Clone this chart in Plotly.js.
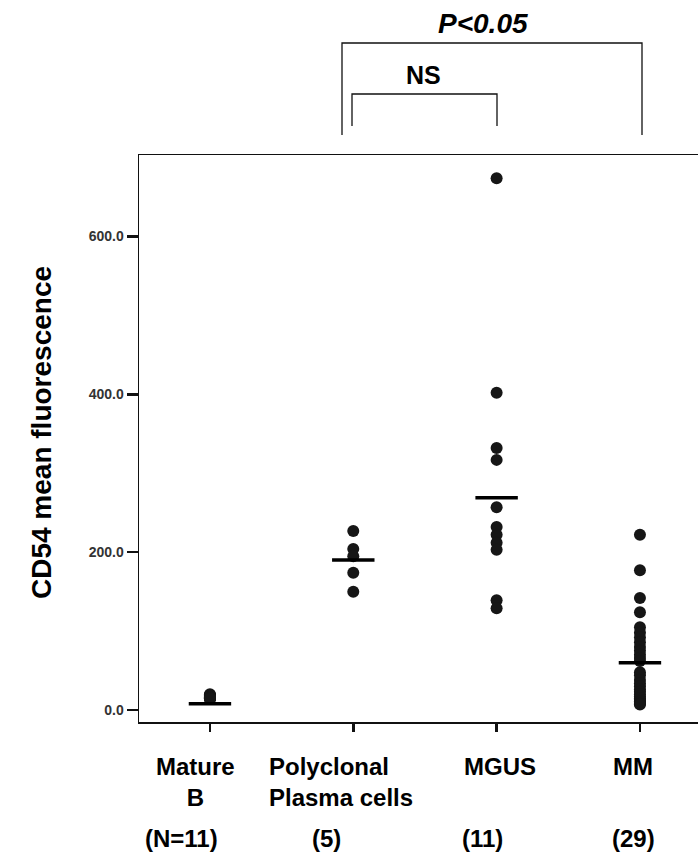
<!DOCTYPE html>
<html>
<head>
<meta charset="utf-8">
<script src="https://cdn.plot.ly/plotly-3.0.1.min.js"></script>
<style>html,body{margin:0;padding:0;background:#fff;}#chart{width:698px;height:857px;}</style>
</head>
<body>
<div id="chart"></div>
<script>
// ---- data ----
const categories = ['Mature<br>B', 'Polyclonal<br>Plasma cells', 'MGUS', 'MM'];
const nLabels = ['(N=11)', '(5)', '(11)', '(29)'];
const matureB = [20, 19, 18, 18, 17, 16, 16, 15, 15, 14, 14];
const polyclonal = [227, 204, 195, 174, 150];
const mgus = [674, 402, 332, 317, 257, 232, 222, 212, 203, 139, 129];
const mm = [222, 177, 142, 124, 105, 98, 92, 86, 80, 75, 70, 66, 62, 48, 44, 38, 34, 30, 26, 23, 20, 17, 15, 13, 11, 10, 9, 8, 7];
const means = [8, 190, 269, 60];
const yTicks = [0, 200, 400, 600];
const yTitle = 'CD54 mean fluorescence';
const pText = 'P<0.05';
const nsText = 'NS';

const groups = [matureB, polyclonal, mgus, mm];

// plot geometry helpers (pixel -> paper)
const L = 139, T = 155, W = 559, H = 567;
const px = p => (p - L) / W;
const py = p => (T + H - p) / H;

const traces = [];
groups.forEach((vals, i) => {
  traces.push({
    type: 'scatter', mode: 'markers',
    x: vals.map(() => i), y: vals,
    marker: {size: 12, color: '#161616', line: {width: 0}},
    hoverinfo: 'y', showlegend: false
  });
});
means.forEach((m, i) => {
  traces.push({
    type: 'scatter', mode: 'lines',
    x: [i - 0.148, i + 0.148], y: [m, m],
    line: {color: '#000', width: 3.5},
    hoverinfo: 'skip', showlegend: false
  });
});

const FONT = 'Liberation Sans, Arial, sans-serif';
const labelFont = {family: FONT, size: 24, color: '#000'};
const annotations = [];
const catShift = [-14, 0, 3, -7];
const catAnchor = ['center', 'left', 'center', 'center'];
const catAnchorShift = [0, -86, 0, 0];
categories.forEach((c, i) => {
  annotations.push({
    xref: 'x', yref: 'paper', x: i, y: py(751),
    xanchor: catAnchor[i], yanchor: 'top', align: catAnchor[i] === 'left' ? 'left' : 'center',
    xshift: catShift[i] + catAnchorShift[i],
    text: '<b>' + c + '</b>', showarrow: false, font: labelFont
  });
});
const nShift = [-28, -27, -14, -6];
nLabels.forEach((t, i) => {
  annotations.push({
    xref: 'x', yref: 'paper', x: i, y: py(838),
    xanchor: 'center', yanchor: 'middle', xshift: nShift[i],
    text: '<b>' + t + '</b>', showarrow: false,
    font: {family: FONT, size: 24, color: '#000'}
  });
});
annotations.push({
  xref: 'paper', yref: 'paper', x: px(41), y: py(433),
  xanchor: 'center', yanchor: 'middle', textangle: -90,
  text: '<b>' + yTitle + '</b>', showarrow: false,
  font: {family: FONT, size: 28, color: '#000'}
});
annotations.push({
  xref: 'paper', yref: 'paper', x: px(483), y: py(23),
  xanchor: 'center', yanchor: 'middle',
  text: '<b><i>' + pText.replace('<', '&lt;') + '</i></b>', showarrow: false,
  font: {family: FONT, size: 28, color: '#000'}
});
annotations.push({
  xref: 'paper', yref: 'paper', x: px(423), y: py(75),
  xanchor: 'center', yanchor: 'middle',
  text: '<b>' + nsText + '</b>', showarrow: false,
  font: {family: FONT, size: 25, color: '#000'}
});

const bracket = (x0, x1, yTop, yBot) => ({
  type: 'path', xref: 'paper', yref: 'paper',
  path: `M ${px(x0)} ${py(yBot)} L ${px(x0)} ${py(yTop)} L ${px(x1)} ${py(yTop)} L ${px(x1)} ${py(yBot)}`,
  line: {color: '#111', width: 1.3}
});

const layout = {
  width: 698, height: 857,
  margin: {l: L, r: 0, t: T, b: 857 - T - H},
  paper_bgcolor: '#fff', plot_bgcolor: '#fff',
  showlegend: false,
  xaxis: {
    range: [-0.495, 3.405], tickvals: [0, 1, 2, 3], showticklabels: false,
    showline: true, mirror: true, linecolor: '#111', linewidth: 1.5,
    ticks: 'outside', ticklen: 8, tickwidth: 2.5, tickcolor: '#111',
    showgrid: false, zeroline: false
  },
  yaxis: {
    range: [-15.2, 703.4], tickvals: yTicks, tickformat: '.1f',
    showline: true, linecolor: '#111', linewidth: 1.5,
    ticks: 'outside', ticklen: 11, tickwidth: 2.5, tickcolor: '#111',
    tickfont: {family: FONT, size: 14, color: '#333', weight: 'bold'},
    showgrid: false, zeroline: false
  },
  annotations: annotations,
  shapes: [bracket(342, 642, 43, 135), bracket(352, 497, 94, 126)]
};

Plotly.newPlot('chart', traces, layout, {displayModeBar: false, staticPlot: true});
</script>
</body>
</html>
